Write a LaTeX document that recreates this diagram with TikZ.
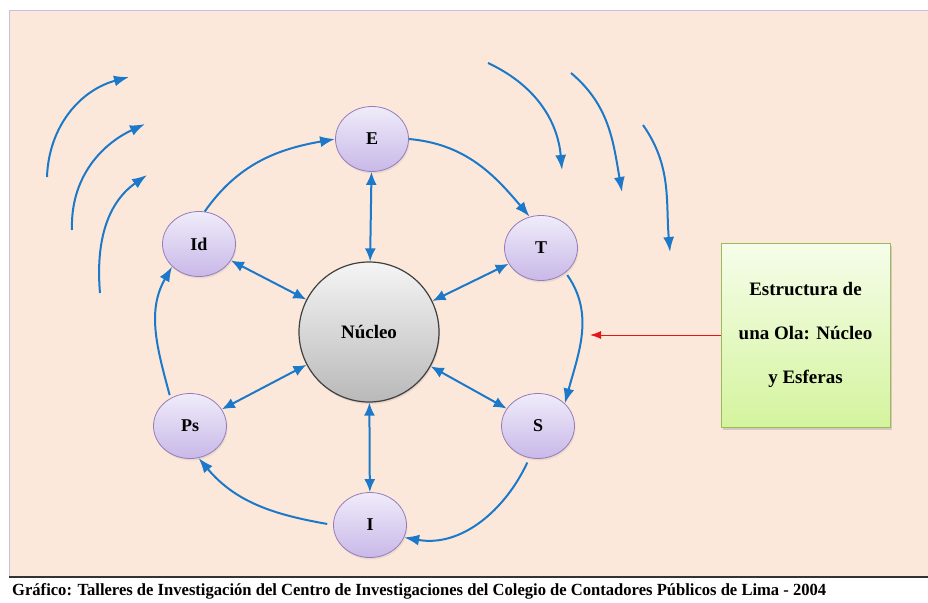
\documentclass[tikz,border=0pt]{standalone}
\usepackage{fontspec}
\setmainfont{Liberation Serif}
\usepackage{tikz}
\usetikzlibrary{shapes,arrows.meta,shadows}
\definecolor{fondo}{RGB}{252,232,218}
\definecolor{flecha}{RGB}{28,120,200}
\definecolor{lila}{RGB}{150,125,185}
\definecolor{lilaclaro}{RGB}{240,236,250}
\definecolor{lilaoscuro}{RGB}{200,184,232}
\definecolor{verdeborde}{RGB}{155,187,89}
\definecolor{verdeclaro}{RGB}{246,253,234}
\definecolor{verdeoscuro}{RGB}{212,244,158}
\definecolor{rojo}{RGB}{235,20,20}

\begin{document}
\begin{tikzpicture}[x=1pt,y=-1pt]
    \tikzstyle{esfera}=[ellipse, minimum width=73pt, minimum height=65pt, draw=lila, line width=0.8pt, top color=lilaclaro, bottom color=lilaoscuro, font=\fontsize{18}{20}\selectfont\bfseries, drop shadow={shadow xshift=1pt, shadow yshift=-2pt, opacity=0.15}]
    \tikzstyle{centro}=[circle, minimum size=140pt, draw=black!75, line width=1.2pt, top color=gray!8, bottom color=gray!55, font=\fontsize{19}{20}\selectfont\bfseries, drop shadow={shadow xshift=1pt, shadow yshift=-2pt, opacity=0.2}]
    \tikzstyle{connect}=[-{Latex[length=15pt,width=11pt]}, line width=2pt, flecha]
    \tikzstyle{doble}=[{Latex[length=13pt,width=11pt]}-{Latex[length=13pt,width=11pt]}, line width=2pt, flecha]
    \tikzstyle{onda}=[-{Latex[length=15pt,width=11pt]}, line width=2pt, flecha]
    % fondo y pie
      \useasboundingbox (0,0) rectangle (928,602);
      \fill[white] (0,0) rectangle (928,602);
      \fill[fondo] (9,10) rectangle (928,577);
      \draw[lila!50, line width=1.2pt] (9.5,577) -- (9.5,10.5) -- (928,10.5);
      \draw[black!80, line width=2pt] (9,577) -- (928,577);
      \node[anchor=west, inner sep=0pt] (pie) at (12,591) {\resizebox{814pt}{\height}{\fontsize{17}{17}\selectfont\bfseries Gráfico: Talleres de Investigación del Centro de Investigaciones del Colegio de Contadores Públicos de Lima - 2004}};

      \node[centro] (nucleo) at (369,332) {Núcleo};
      \node[esfera] (E) at (372,139) {E};
      \node[esfera] (T) at (541,248) {T};
      \node[esfera] (S) at (538,426) {S};
      \node[esfera] (I) at (370,525) {I};
      \node[esfera] (Ps) at (190,426) {Ps};
      \node[esfera] (Id) at (199,244) {Id};

      \node[rectangle, draw=verdeborde, line width=0.8pt, top color=verdeclaro, bottom color=verdeoscuro, minimum width=169pt, minimum height=184pt, align=center, font=\fontsize{19}{44}\selectfont\bfseries, drop shadow={shadow xshift=2pt, shadow yshift=-3pt, opacity=0.3}] (cuadro) at (805.5,335) {Estructura de\\una Ola: Núcleo\\y Esferas};
      \coordinate (punta) at (590,335);

      \path (nucleo) edge [doble] (E);
      \path (nucleo) edge [doble] (T);
      \path (nucleo) edge [doble] (S);
      \path (nucleo) edge [doble] (I);
      \path (nucleo) edge [doble] (Ps);
      \path (nucleo) edge [doble] (Id);

      \path (Id.80) edge [connect, out=55, in=190] (E.west);
      \path (E.east) edge [connect, out=-5, in=130] (T.110);
      \path (T.-45) edge [connect, shorten <=3pt, out=-55, in=75] (S.40);
      \path (S.-105) edge [connect, shorten <=5pt, out=-115, in=-10] (I.-20);
      \path (I.west) edge [connect, shorten <=6pt, out=170, in=-50] (Ps.-75);
      \path (Ps.125) edge [connect, shorten <=3pt, out=105, in=-120] (Id.220);
      \path (cuadro.west) edge [-{Latex[length=11pt,width=8pt]}, rojo, line width=1pt] (punta);

    % ondas
      \foreach \a/\b/\c/\d/\o/\i in {47/177/129/77/88/195, 72/230/145/124/92/205, 100/293/147/175/95/215}
        \draw[onda] (\a,\b) to[out=\o, in=\i] (\c,\d);
      \foreach \a/\b/\c/\d/\o/\i in {488/63/562/170/-25/95, 571/73/622/192/-40/100, 643/125/670/252/-55/95}
        \draw[onda] (\a,\b) to[out=\o, in=\i] (\c,\d);
    \end{tikzpicture}
\end{document}
